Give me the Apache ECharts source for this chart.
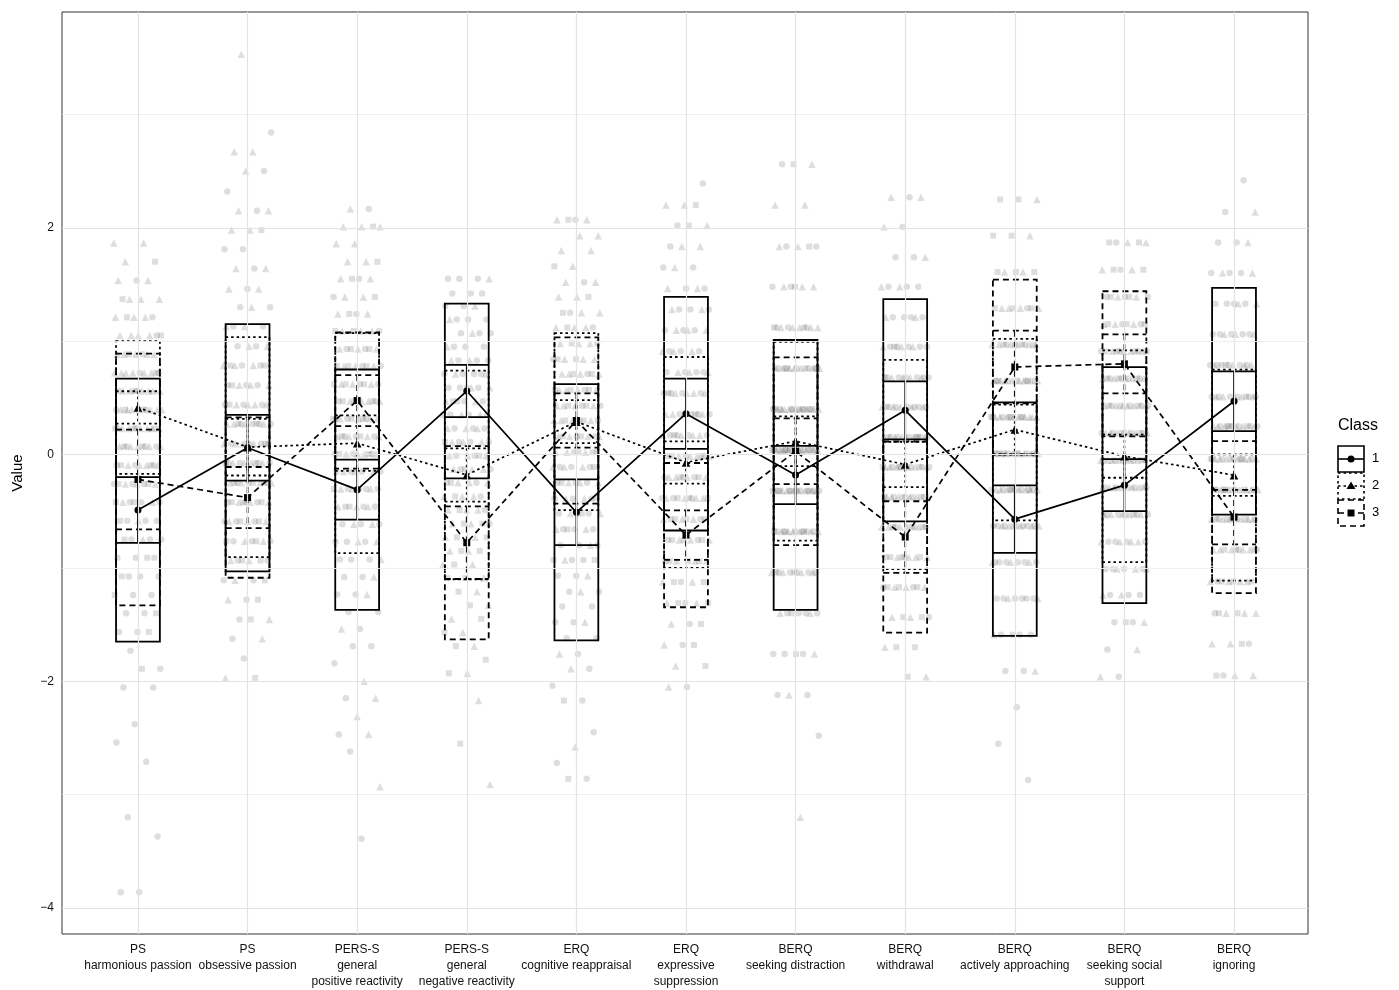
<!DOCTYPE html>
<html>
<head>
<meta charset="utf-8">
<title>Class profiles</title>
<script src="https://cdn.jsdelivr.net/npm/echarts@6/dist/echarts.min.js"></script>
<style>
  html, body { margin: 0; padding: 0; background: #fff; }
  #chart { width: 1399px; height: 990px; }
</style>
</head>
<body>
<div id="chart"></div>
<script>
// categories on the x axis
var categories = [
  'PS\nharmonious passion', 'PS\nobsessive passion',
  'PERS-S\ngeneral\npositive reactivity', 'PERS-S\ngeneral\nnegative reactivity',
  'ERQ\ncognitive reappraisal', 'ERQ\nexpressive\nsuppression',
  'BERQ\nseeking distraction', 'BERQ\nwithdrawal', 'BERQ\nactively approaching',
  'BERQ\nseeking social\nsupport', 'BERQ\nignoring'
];
var yTicks = [-4, -2, 0, 2];

// class means, sd (box half height) and ci (inner bar half height)
var mean1 = [-0.49, 0.06, -0.31, 0.56, -0.51, 0.36, -0.18, 0.39, -0.57, -0.27, 0.47];
var sd1   = [1.16, 1.09, 1.06, 0.77, 1.13, 1.03, 1.19, 0.98, 1.03, 1.04, 1.00];
var ci1   = [0.29, 0.29, 0.265, 0.23, 0.29, 0.31, 0.257, 0.256, 0.297, 0.23, 0.264];

var mean2 = [0.415, 0.065, 0.10, -0.18, 0.29, -0.07, 0.117, -0.088, 0.22, -0.015, -0.182];
var sd2   = [0.585, 0.97, 0.97, 0.92, 0.78, 0.93, 0.876, 0.922, 0.80, 0.934, 0.93];
var ci2   = [0.143, 0.25, 0.245, 0.235, 0.19, 0.186, 0.22, 0.20, 0.22, 0.19, 0.183];

var mean3 = [-0.22, -0.38, 0.476, -0.778, 0.30, -0.711, 0.029, -0.728, 0.772, 0.80, -0.552];
var sd3   = [1.11, 0.707, 0.60, 0.852, 0.733, 0.636, 0.828, 0.843, 0.77, 0.64, 0.67];
var ci3   = [0.44, 0.27, 0.225, 0.32, 0.24, 0.218, 0.29, 0.316, 0.32, 0.26, 0.24];

// raw responses, per category: [value, count class1, count class2, count class3]
var rowsC1 = [[1.865,0,2,0],[1.70,0,1,1],[1.535,1,2,0],[1.37,0,3,1],[1.21,1,3,1],[1.05,1,4,1],
  [0.885,1,5,1],[0.72,2,6,1],[0.56,2,6,1],[0.395,2,7,2],[0.23,3,6,2],[0.07,3,5,2],[-0.095,3,4,2],
  [-0.26,3,3,2],[-0.42,3,2,2],[-0.585,3,1,1],[-0.75,3,1,1],[-0.91,3,0,1],[-1.075,3,0,1],[-1.24,2,0,1],
  [-1.40,2,0,1],[-1.565,2,0,1],[-1.73,1,0,0],[-1.89,1,0,1],[-2.055,2,0,0],[-2.38,1,0,0],[-2.54,1,0,0],
  [-2.71,1,0,0],[-3.2,1,0,0],[-3.37,1,0,0],[-3.86,2,0,0]];
var rowsC2 = [[3.53,0,1,0],[2.84,1,0,0],[2.67,0,2,0],[2.50,1,1,0],[2.32,1,0,0],[2.15,1,2,0],[1.98,0,2,1],
  [1.81,2,0,0],[1.64,1,2,0],[1.46,1,2,0],[1.30,2,1,0],[1.13,2,2,0],[0.955,2,2,0],[0.785,3,3,1],[0.61,3,3,1],
  [0.44,3,4,1],[0.27,4,4,2],[0.095,4,4,2],[-0.075,4,4,2],[-0.25,3,4,3],[-0.42,3,3,3],[-0.59,3,3,2],
  [-0.765,3,2,2],[-0.935,2,2,2],[-1.11,2,1,1],[-1.28,1,1,1],[-1.455,1,1,1],[-1.625,1,1,0],[-1.80,1,0,0],
  [-1.97,0,1,1]];
var rowsC3 = [[2.165,1,1,0],[2.01,0,3,1],[1.86,0,2,0],[1.70,0,2,1],[1.55,1,2,1],[1.39,1,2,1],[1.24,1,2,1],
  [1.09,1,3,2],[0.93,2,3,2],[0.78,2,3,3],[0.62,2,3,3],[0.47,3,4,3],[0.315,3,4,3],[0.16,3,4,2],[0.005,3,4,2],
  [-0.15,3,3,1],[-0.305,4,3,1],[-0.46,3,3,1],[-0.615,3,2,0],[-0.77,3,2,0],[-0.925,3,1,0],[-1.08,2,1,0],
  [-1.235,2,1,0],[-1.39,2,0,0],[-1.54,1,1,0],[-1.69,2,0,0],[-1.84,1,0,0],[-2.0,0,1,0],[-2.15,1,1,0],
  [-2.31,0,1,0],[-2.47,1,1,0],[-2.62,1,0,0],[-2.93,0,1,0],[-3.39,1,0,0]];
var rowsC4 = [[1.55,3,1,0],[1.42,3,0,0],[1.31,2,1,0],[1.19,3,1,0],[1.07,3,1,0],[0.95,3,1,0],[0.83,3,2,0],
  [0.71,4,2,0],[0.59,4,2,0],[0.47,3,2,1],[0.35,3,2,1],[0.23,3,3,0],[0.11,3,3,1],[-0.01,2,3,1],[-0.13,2,3,1],
  [-0.25,2,3,1],[-0.37,1,3,1],[-0.49,1,3,1],[-0.61,1,2,2],[-0.73,0,2,2],[-0.85,0,2,2],[-0.97,0,2,1],
  [-1.09,0,1,2],[-1.21,0,1,1],[-1.33,0,1,1],[-1.45,0,1,1],[-1.57,0,1,1],[-1.69,0,1,1],[-1.81,0,0,1],
  [-1.93,0,1,1],[-2.17,0,1,0],[-2.55,0,0,1],[-2.91,0,1,0]];
var rowsC5 = [[2.07,1,2,1],[1.93,0,2,0],[1.80,0,2,0],[1.66,0,1,1],[1.52,1,2,0],[1.39,0,2,1],[1.25,1,2,1],
  [1.12,1,3,1],[0.98,1,3,1],[0.84,1,3,2],[0.71,1,4,2],[0.57,2,4,2],[0.43,2,4,2],[0.30,2,4,2],[0.16,2,4,2],
  [0.02,2,3,2],[-0.11,3,3,1],[-0.25,3,3,1],[-0.39,3,2,1],[-0.52,3,2,1],[-0.66,3,2,1],[-0.80,3,1,0],
  [-0.93,3,1,1],[-1.07,2,1,0],[-1.21,2,1,0],[-1.34,2,0,0],[-1.48,2,1,0],[-1.62,2,0,0],[-1.76,1,1,0],
  [-1.89,1,1,0],[-2.04,1,0,0],[-2.17,1,0,1],[-2.45,1,0,0],[-2.58,0,1,0],[-2.72,1,0,0],[-2.86,1,0,1]];
var rowsC6 = [[2.39,1,0,0],[2.20,0,2,1],[2.02,1,1,1],[1.835,1,2,0],[1.65,2,1,0],[1.465,2,2,0],[1.28,3,2,0],
  [1.095,3,3,0],[0.91,3,3,0],[0.725,4,3,0],[0.54,4,4,1],[0.355,4,4,1],[0.17,4,4,1],[-0.015,3,4,2],
  [-0.20,3,4,2],[-0.385,3,4,3],[-0.57,2,3,3],[-0.755,2,3,3],[-0.94,1,3,3],[-1.125,1,2,2],[-1.31,1,2,2],
  [-1.495,1,1,1],[-1.68,1,1,1],[-1.865,0,1,1],[-2.05,1,1,0]];
var rowsC7 = [[2.56,1,1,1],[2.20,0,2,0],[1.835,2,2,1],[1.48,2,3,1],[1.12,3,5,2],[0.76,5,7,3],[0.40,6,9,4],
  [0.04,7,10,5],[-0.32,7,8,4],[-0.68,6,6,3],[-1.04,5,4,2],[-1.40,4,2,1],[-1.76,3,1,1],[-2.12,2,1,0],
  [-2.48,1,0,0],[-3.2,0,1,0]];
var rowsC8 = [[2.27,1,2,0],[2.006,1,1,0],[1.74,2,1,0],[1.48,3,2,0],[1.21,4,2,0],[0.95,5,3,1],[0.68,6,4,1],
  [0.42,6,6,1],[0.155,6,6,2],[-0.11,5,7,3],[-0.375,4,6,3],[-0.64,3,5,3],[-0.905,2,4,3],[-1.17,2,3,3],
  [-1.435,1,2,2],[-1.70,0,1,2],[-1.96,0,1,1]];
var rowsC9 = [[2.25,0,1,2],[1.93,0,1,2],[1.61,0,2,3],[1.29,1,4,3],[0.97,2,6,4],[0.65,3,8,4],[0.33,4,9,3],
  [0.01,6,9,2],[-0.31,7,7,1],[-0.63,7,5,1],[-0.95,6,3,0],[-1.27,6,2,0],[-1.59,4,1,0],[-1.91,2,1,0],
  [-2.23,1,0,0],[-2.55,1,0,0],[-2.87,1,0,0]];
var rowsC10 = [[1.87,1,2,2],[1.63,1,2,2],[1.39,2,2,3],[1.15,2,3,3],[0.91,3,4,4],[0.67,4,5,3],[0.43,4,6,3],
  [0.19,5,6,2],[-0.05,5,6,2],[-0.29,5,6,1],[-0.53,5,5,1],[-0.77,4,4,0],[-1.01,4,3,0],[-1.24,3,2,0],
  [-1.48,2,1,1],[-1.72,1,1,0],[-1.96,1,1,0]];
var rowsC11 = [[2.42,1,0,0],[2.14,1,1,0],[1.87,2,1,0],[1.60,3,2,0],[1.33,4,2,0],[1.06,5,3,0],[0.79,6,4,1],
  [0.51,6,5,1],[0.25,6,6,2],[-0.04,5,7,3],[-0.31,4,6,4],[-0.57,3,6,4],[-0.84,2,5,3],[-1.12,1,4,3],
  [-1.40,1,3,2],[-1.67,1,2,1],[-1.95,1,2,1]];

var allRows = [rowsC1, rowsC2, rowsC3, rowsC4, rowsC5, rowsC6, rowsC7, rowsC8, rowsC9, rowsC10, rowsC11];

// jittered points, one list per class (horizontal spread only)
var pts = [[], [], []];
allRows.forEach(function (rows, c) {
    var k = 0;
    rows.forEach(function (r) {
        for (var j = 0; j < 3; j++) {
            for (var t = 0; t < r[j + 1]; t++) {
                var f = (k * 0.6180339887 + c * 0.37) % 1;
                pts[j].push([c + (f - 0.5) * 0.44, r[0]]);
                k++;
            }
        }
    });
});

var dashes = [null, [2.5, 3], [6, 4]];
var lineTypes = ['solid', [2.5, 3], [6, 4]];
var symbols = ['circle', 'triangle', 'rect'];
var symSizes = [7, 8.5, 7];
var means = [mean1, mean2, mean3];
var sds = [sd1, sd2, sd3];
var cis = [ci1, ci2, ci3];

function boxRenderer(dash) {
    return function (params, api) {
        var i = api.value(0), m = api.value(1), sd = api.value(2), ci = api.value(3);
        var cx = api.coord([i, m])[0];
        var hw = api.size([1, 0])[0] * 0.2;
        var yTop = api.coord([i, m + sd])[1], yBot = api.coord([i, m - sd])[1];
        var yHi = api.coord([i, m + ci])[1], yLo = api.coord([i, m - ci])[1];
        var st = { stroke: '#000', lineWidth: 1.8, lineDash: dash, fill: 'none' };
        return {
            type: 'group',
            children: [
                { type: 'rect', shape: { x: cx - hw, y: yTop, width: 2 * hw, height: yBot - yTop }, style: st },
                { type: 'line', shape: { x1: cx - hw, y1: yHi, x2: cx + hw, y2: yHi }, style: st },
                { type: 'line', shape: { x1: cx - hw, y1: yLo, x2: cx + hw, y2: yLo }, style: st },
                { type: 'line', shape: { x1: cx, y1: yHi, x2: cx, y2: yLo }, style: st }
            ]
        };
    };
}

// grid lines (major and minor like ggplot theme_bw)
var gridMarks = [];
[-4, -3, -2, -1, 0, 1, 2, 3].forEach(function (v) {
    var major = v % 2 === 0;
    gridMarks.push({ yAxis: v, lineStyle: { color: major ? '#e3e3e3' : '#ededed', width: major ? 1.2 : 0.9, type: 'solid' } });
});
categories.forEach(function (c, i) {
    gridMarks.push({ xAxis: i, lineStyle: { color: '#e3e3e3', width: 1.2, type: 'solid' } });
});

var series = [{
    type: 'line', data: [], silent: true, z: 0,
    markLine: { silent: true, symbol: 'none', label: { show: false }, animation: false, data: gridMarks }
}];

for (var j = 0; j < 3; j++) {
    series.push({
        type: 'scatter', name: 'pts' + (j + 1), data: pts[j], symbol: symbols[j],
        symbolSize: [6.5, 7.5, 6][j], silent: true, z: 1,
        itemStyle: { color: 'rgba(0,0,0,0.16)' }
    });
}
for (var j = 0; j < 3; j++) {
    series.push({
        type: 'custom', name: 'box' + (j + 1), z: 3, silent: true,
        renderItem: boxRenderer(dashes[j]),
        encode: { x: 0, y: 1 },
        data: means[j].map(function (m, i) { return [i, m, sds[j][i], cis[j][i]]; })
    });
}
for (var j = 0; j < 3; j++) {
    series.push({
        type: 'line', name: String(j + 1), z: 4, silent: true,
        data: means[j].map(function (m, i) { return [i, m]; }),
        symbol: symbols[j], symbolSize: symSizes[j], showAllSymbol: true,
        lineStyle: { color: '#000', width: 1.7, type: lineTypes[j] },
        itemStyle: { color: '#000' }
    });
}

// legend keys drawn by hand (crossbar glyph + point)
var graphic = [{
    type: 'text', left: 1338, top: 418,
    style: { text: 'Class', fontSize: 16, fill: '#000', fontFamily: 'Liberation Sans' }
}];
for (var j = 0; j < 3; j++) {
    var x0 = 1338, y0 = 446 + 27 * j, w = 26, h = 26, cx = x0 + w / 2, cy = y0 + h / 2;
    var st = { stroke: '#000', lineWidth: 1.6, lineDash: dashes[j], fill: 'none' };
    graphic.push({ type: 'rect', shape: { x: x0, y: y0, width: w, height: h }, style: st });
    graphic.push({ type: 'line', shape: { x1: x0, y1: cy, x2: x0 + w, y2: cy }, style: st });
    if (j === 0) {
        graphic.push({ type: 'circle', shape: { cx: cx, cy: cy, r: 3.5 }, style: { fill: '#000' } });
    } else if (j === 1) {
        graphic.push({ type: 'polygon', shape: { points: [[cx, cy - 4.5], [cx + 4.5, cy + 3], [cx - 4.5, cy + 3]] }, style: { fill: '#000' } });
    } else {
        graphic.push({ type: 'rect', shape: { x: cx - 3.5, y: cy - 3.5, width: 7, height: 7 }, style: { fill: '#000' } });
    }
    graphic.push({
        type: 'text', left: 1372, top: cy - 7,
        style: { text: String(j + 1), fontSize: 13, fill: '#000', fontFamily: 'Liberation Sans' }
    });
}

var option = {
    animation: false,
    backgroundColor: '#fff',
    textStyle: { fontFamily: 'Liberation Sans, Arial, sans-serif' },
    grid: { left: 62, right: 91, top: 12, bottom: 55, show: true, borderColor: '#333', borderWidth: 1, backgroundColor: '#fff' },
    xAxis: {
        type: 'value', min: -0.693, max: 10.675,
        axisLine: { show: false },
        splitLine: { show: false },
        axisTick: { show: true, length: 4, lineStyle: { color: '#333' }, customValues: categories.map(function (c, i) { return i; }) },
        axisLabel: {
            customValues: categories.map(function (c, i) { return i; }),
            formatter: function (v) { return categories[Math.round(v)]; },
            fontSize: 12, lineHeight: 16, color: '#111', margin: 8, align: 'center'
        }
    },
    yAxis: {
        type: 'value', min: -4.229, max: 3.903,
        name: 'Value', nameLocation: 'middle', nameGap: 37,
        nameTextStyle: { fontSize: 15, color: '#000' },
        axisLine: { show: false },
        splitLine: { show: false },
        axisTick: { show: true, length: 4, lineStyle: { color: '#333' }, customValues: yTicks },
        axisLabel: {
            customValues: yTicks,
            formatter: function (v) { return String(v).replace('-', '\u2212'); },
            fontSize: 12, color: '#111', margin: 8
        }
    },
    graphic: graphic,
    series: series
};

echarts.init(document.getElementById('chart')).setOption(option);
</script>
</body>
</html>
